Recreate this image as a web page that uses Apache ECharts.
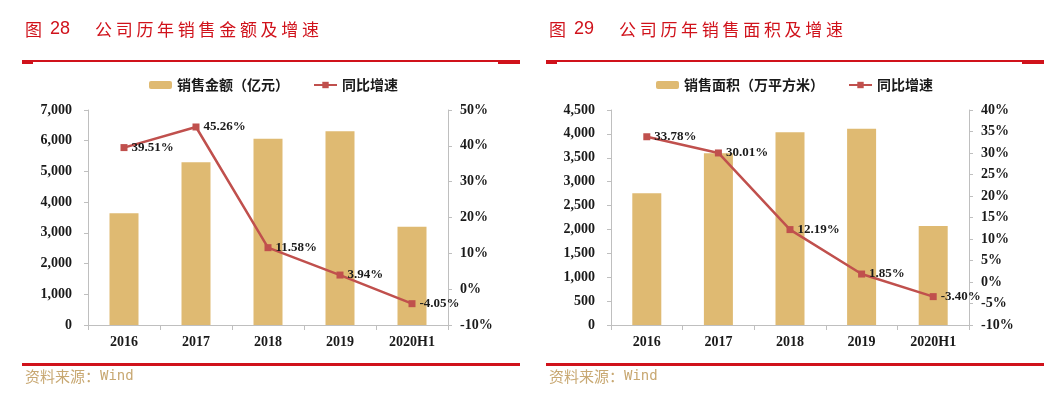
<!DOCTYPE html>
<html><head><meta charset="utf-8">
<script src="https://cdn.jsdelivr.net/npm/echarts@6/dist/echarts.min.js"></script>
<style>html,body{margin:0;padding:0;background:#fff}#c{width:1044px;height:395px}</style>
</head><body><div id="c"></div>
<script>
var categories = ['2016', '2017', '2018', '2019', '2020H1'];
var salesAmount = [3640, 5300, 6060, 6310, 3200];
var salesAmountGrowth = [39.51, 45.26, 11.58, 3.94, -4.05];
var salesArea = [2756, 3594, 4033, 4109, 2072];
var salesAreaGrowth = [33.78, 30.01, 12.19, 1.85, -3.40];
var titleLeft = ['图 28', '公司历年销售金额及增速'];
var titleRight = ['图 29', '公司历年销售面积及增速'];
var legendLeft = ['销售金额（亿元）', '同比增速'];
var legendRight = ['销售面积（万平方米）', '同比增速'];
var sourceText = ['资料来源：', 'Wind'];

var RED = '#d0121b', BAR = '#dfba72', LINE = '#c0504d', AXIS = '#bfbfbf', TXT = '#1a1a1a', SRC = '#c8a872';
var SERIF = 'Liberation Serif';
var CJK = 'Noto Sans CJK SC';

var chart = echarts.init(document.getElementById('c'), null, {renderer: 'canvas'});

function titleGraphics(x0, t) {
  var g = [];
  g.push({type: 'text', left: x0, top: 21, style: {text: t[0].split(' ')[0], font: '17px "' + CJK + '"', fill: RED}});
  g.push({type: 'text', left: x0 + 25, top: 20, style: {text: t[0].split(' ')[1], font: '18px "Liberation Sans"', fill: RED}});
  var chars = t[1].split('');
  for (var i = 0; i < chars.length; i++) {
    g.push({type: 'text', left: x0 + 70 + i * 20.7, top: 21, style: {text: chars[i], font: '17px "' + CJK + '"', fill: RED}});
  }
  return g;
}
function decoLines(x0, x1) {
  return [
    {type: 'rect', shape: {x: x0, y: 60, width: x1 - x0, height: 2}, style: {fill: RED}},
    {type: 'rect', shape: {x: x0, y: 60, width: 11, height: 4}, style: {fill: RED}},
    {type: 'rect', shape: {x: x1 - 22, y: 60, width: 22, height: 4}, style: {fill: RED}},
    {type: 'rect', shape: {x: x0, y: 363, width: x1 - x0, height: 3}, style: {fill: RED}},
    {type: 'text', left: x0 + 3, top: 369, style: {
      text: '{a|' + sourceText[0] + '}{b|' + sourceText[1] + '}',
      rich: {a: {fontFamily: CJK, fontSize: 15, fill: SRC}, b: {fontFamily: 'DejaVu Sans Mono', fontSize: 14, fill: SRC}}
    }}
  ];
}

function valueAxisLeft(max, interval, grid) {
  return {type: 'value', gridIndex: grid, min: 0, max: max, interval: interval,
    axisLine: {show: true, lineStyle: {color: AXIS, width: 1}},
    axisTick: {show: true, length: 4, lineStyle: {color: AXIS}},
    splitLine: {show: false},
    axisLabel: {margin: 16, color: TXT, fontFamily: SERIF, fontWeight: 'bold', fontSize: 14,
      formatter: function (v) { return v.toLocaleString('en-US'); }}};
}
function valueAxisRight(min, max, interval, grid) {
  return {type: 'value', gridIndex: grid, min: min, max: max, interval: interval, position: 'right',
    axisLine: {show: true, lineStyle: {color: AXIS, width: 1}},
    axisTick: {show: true, length: 4, lineStyle: {color: AXIS}},
    splitLine: {show: false},
    axisLabel: {margin: 12, color: TXT, fontFamily: SERIF, fontWeight: 'bold', fontSize: 14,
      formatter: '{value}%'}};
}
function catAxis(grid) {
  return {type: 'category', gridIndex: grid, data: categories,
    axisLine: {lineStyle: {color: AXIS, width: 1}},
    axisTick: {show: true, length: 5, lineStyle: {color: AXIS}},
    axisLabel: {margin: 10, color: TXT, fontFamily: SERIF, fontWeight: 'bold', fontSize: 14}};
}
function lineLabel() {
  return {show: true, position: 'right', distance: 4, color: TXT, fontFamily: SERIF, fontWeight: 'bold', fontSize: 13,
    formatter: function (p) { return p.value.toFixed(2) + '%'; }};
}
function legendCfg(left, names) {
  return {left: left, top: 73, itemWidth: 23, itemHeight: 8, itemGap: 24, data: names,
    textStyle: {fontFamily: CJK, fontWeight: 'bold', fontSize: 14, color: TXT}};
}

var option = {
  animation: false,
  graphic: [].concat(titleGraphics(25, titleLeft), titleGraphics(549, titleRight), decoLines(22, 520), decoLines(546, 1044)),
  legend: [
    legendCfg(144, [legendLeft[0], legendLeft[1]]),
    legendCfg(651, [legendRight[0], legendRight[1] + ' '])
  ],
  grid: [
    {left: 88, right: 596, top: 110, bottom: 70},
    {left: 611, right: 75, top: 110, bottom: 70}
  ],
  xAxis: [catAxis(0), catAxis(1)],
  yAxis: [
    valueAxisLeft(7000, 1000, 0), valueAxisRight(-10, 50, 10, 0),
    valueAxisLeft(4500, 500, 1), valueAxisRight(-10, 40, 5, 1)
  ],
  series: [
    {name: legendLeft[0], type: 'bar', xAxisIndex: 0, yAxisIndex: 0, data: salesAmount, barWidth: 29, itemStyle: {color: BAR}},
    {name: legendLeft[1], type: 'line', xAxisIndex: 0, yAxisIndex: 1, data: salesAmountGrowth, symbol: 'rect', symbolSize: 7,
      lineStyle: {color: LINE, width: 2.5}, itemStyle: {color: LINE}, label: lineLabel()},
    {name: legendRight[0], type: 'bar', xAxisIndex: 1, yAxisIndex: 2, data: salesArea, barWidth: 29, itemStyle: {color: BAR}},
    {name: legendRight[1] + ' ', type: 'line', xAxisIndex: 1, yAxisIndex: 3, data: salesAreaGrowth, symbol: 'rect', symbolSize: 7,
      lineStyle: {color: LINE, width: 2.5}, itemStyle: {color: LINE}, label: lineLabel()}
  ]
};
chart.setOption(option);
</script></body></html>
